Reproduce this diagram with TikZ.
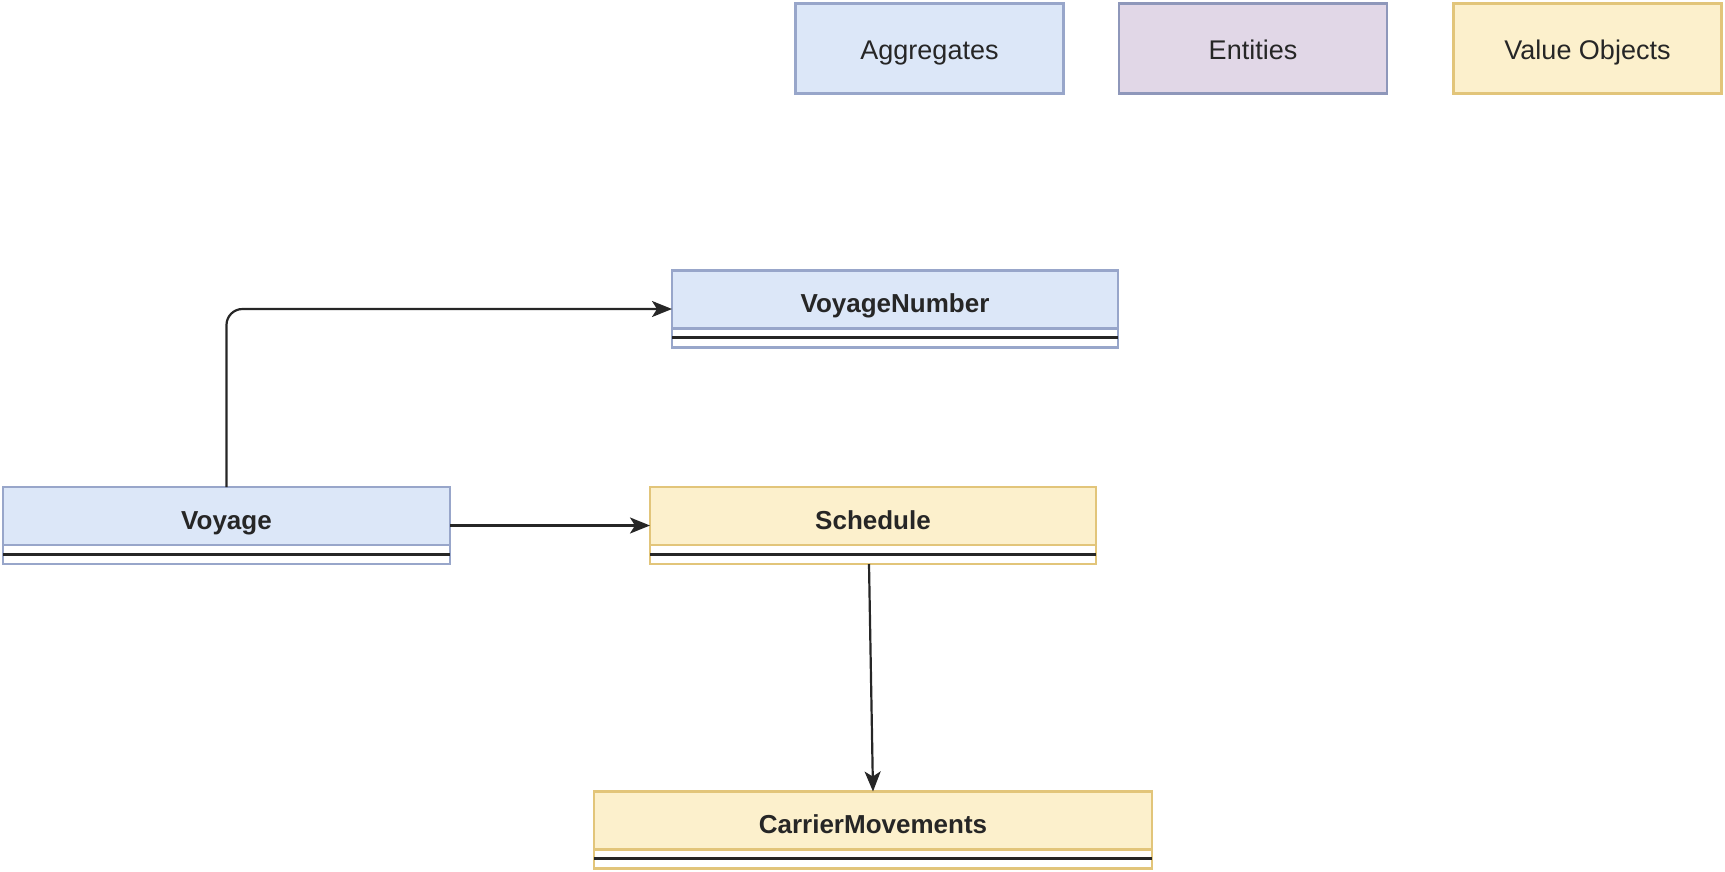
\documentclass[tikz,border=0pt]{standalone}
\usepackage{fontspec}
\setmainfont{Liberation Sans}
\usetikzlibrary{arrows.meta}
\definecolor{aggF}{HTML}{DCE7F8}
\definecolor{aggS}{HTML}{98A6CA}
\definecolor{entF}{HTML}{E1D7E7}
\definecolor{entS}{HTML}{8E97BA}
\definecolor{voF}{HTML}{FCF0CC}
\definecolor{voS}{HTML}{E2C57A}
\definecolor{ink}{HTML}{262626}
\tikzset{
  legendbox/.style={draw, line width=2.5pt, inner sep=0pt, outer sep=0pt, minimum width=268pt, minimum height=90pt, font=\fontsize{27}{31}\selectfont, text=ink, text height=23pt, text depth=1pt},
  clsbox/.style={draw, fill=white, line width=2.5pt, inner sep=0pt, outer sep=0pt, minimum height=77pt},
  clshdr/.style={line width=2.5pt},
  clstext/.style={font=\bfseries\fontsize{26}{30}\selectfont, text=ink, inner sep=0pt, text height=19pt, text depth=5pt},
  divline/.style={draw=ink, line width=3pt},
  conn/.style={draw=ink, line width=2.2pt, -{Stealth[length=20pt,width=16pt,inset=5pt]}}
}
\begin{document}
\begin{tikzpicture}[x=1pt,y=-1pt]
\useasboundingbox (0,0) rectangle (1725,871);
% legend
\node[legendbox, draw=aggS, fill=aggF] (lagg) at (929.5,48.5) {Aggregates};
\node[legendbox, draw=entS, fill=entF] (lent) at (1253,48.5) {Entities};
\node[legendbox, draw=voS, fill=voF] (lvo) at (1587.5,48.5) {Value Objects};
% VoyageNumber
\node[clsbox, draw=aggS, minimum width=446pt] (vnum) at (895,309) {};
\draw[clshdr, fill=aggF, draw=aggS] (vnum.north west) rectangle ([yshift=-58pt]vnum.north east);
\node[clstext] (vnumT) at ([yshift=-35pt]vnum.north) {VoyageNumber};
\draw[divline] ([yshift=-67pt]vnum.north west) -- ([yshift=-67pt]vnum.north east);
% Voyage
\node[clsbox, draw=aggS, minimum width=447pt] (voyage) at (226.5,525.5) {};
\draw[clshdr, fill=aggF, draw=aggS] (voyage.north west) rectangle ([yshift=-58pt]voyage.north east);
\node[clstext] (voyageT) at ([yshift=-35pt]voyage.north) {Voyage};
\draw[divline] ([yshift=-67pt]voyage.north west) -- ([yshift=-67pt]voyage.north east);
% Schedule
\node[clsbox, draw=voS, minimum width=446pt] (sched) at (873,525.5) {};
\draw[clshdr, fill=voF, draw=voS] (sched.north west) rectangle ([yshift=-58pt]sched.north east);
\node[clstext] (schedT) at ([yshift=-35pt]sched.north) {Schedule};
\draw[divline] ([yshift=-67pt]sched.north west) -- ([yshift=-67pt]sched.north east);
% CarrierMovements
\node[clsbox, draw=voS, minimum width=558pt] (cm) at (873,830) {};
\draw[clshdr, fill=voF, draw=voS] (cm.north west) rectangle ([yshift=-58pt]cm.north east);
\node[clstext] (cmT) at ([yshift=-35pt]cm.north) {CarrierMovements};
\draw[divline] ([yshift=-67pt]cm.north west) -- ([yshift=-67pt]cm.north east);
% connectors
\draw[conn, rounded corners=16pt] (voyage.north) |- (vnum.west);
\draw[conn] (voyage.east) -- (sched.west);
\draw[conn] ([xshift=-4pt]sched.south) -- (cm.north);
\end{tikzpicture}
\end{document}
